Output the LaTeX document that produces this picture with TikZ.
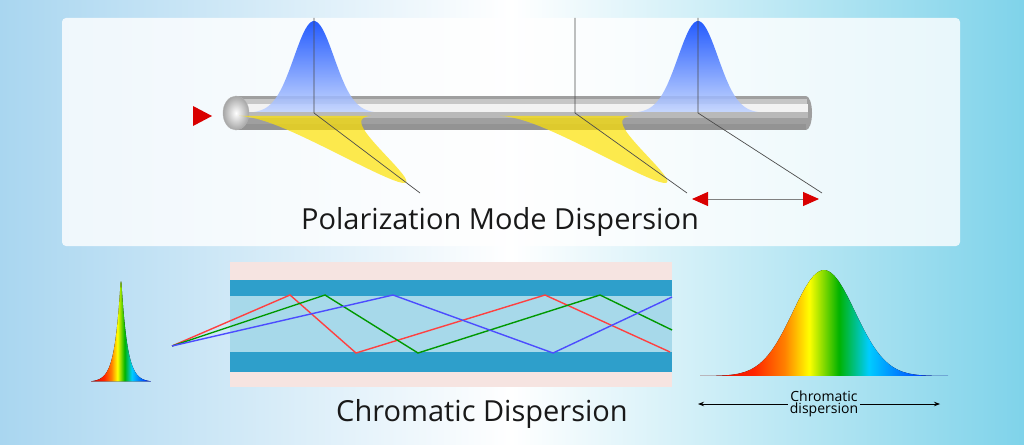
\documentclass[tikz,border=0pt]{standalone}
\usepackage{fontspec}
\setmainfont{Open Sans}
\usetikzlibrary{arrows.meta}
\definecolor{bgcyan}{HTML}{7FD3EA}
\definecolor{bgblue}{HTML}{A9D6F0}
\definecolor{cladding}{HTML}{2E9FCB}
\definecolor{core}{HTML}{A7D9EA}
\definecolor{jacket}{HTML}{F6E4E1}
\pgfdeclarehorizontalshading{rainbow}{100bp}{color(0bp)=(red!85!black); color(25bp)=(red!85!black); color(36bp)=(red!70!orange); color(42bp)=(orange); color(47bp)=(yellow); color(53bp)=(green!70!black); color(59bp)=(cyan!80!blue); color(75bp)=(blue); color(100bp)=(blue)}
\tikzset{
  ray/.style={line width=1.4pt},
  axis/.style={draw=black!70, line width=0.7pt},
  bluepulse/.style={top color=blue!75!cyan, bottom color=cyan!30!blue!25, opacity=0.85},
  yellowpulse/.style={fill=yellow!85!orange, opacity=0.7},
  title/.style={font=\fontsize{29}{34}\selectfont, text=black!90}
}
\begin{document}
\begin{tikzpicture}[x=1pt,y=-1pt]
  \useasboundingbox (0,0) rectangle (1024,444);
  % background
  \shade[left color=bgblue, right color=bgcyan, middle color=white] (0,0) rectangle (1024,444);
  \fill[white, opacity=0.8, rounded corners=4pt] (62,18) rectangle (960,246);

  % --- polarization mode dispersion ---
  \fill[gray!75] (236,96) rectangle (806,130);
  \fill[gray!75] (806,113) ellipse (6 and 17);
  \fill[gray!45] (236,99) rectangle (807,104);
  \fill[white!90!gray] (236,104) rectangle (808,112);
  \fill[gray!55] (236,112) rectangle (808,118);
  \fill[gray!85] (236,124) rectangle (806,130);
  \shade[inner color=white, outer color=gray!70, draw=gray!60] (236,113) ellipse (13 and 17);
  \fill[red!85!black] (193,106) -- (212,116) -- (193,126) -- cycle;
  % yellow pulses
  \foreach \c in {314,575}
    \fill[yellowpulse] plot[domain=-3:3,samples=50] ({\c-10+22*\x+100*exp(-0.5*(\x)*(\x))},{115+68*exp(-0.5*(\x)*(\x))}) -- cycle;
  % blue pulses
  \foreach \c in {314,698}
    \shade[bluepulse] plot[domain=-3:3,samples=50] ({\c+20*\x},{113-92*exp(-0.5*(\x)*(\x))}) -- cycle;
  % axes
  \coordinate (a1) at (314,113);
  \coordinate (a2) at (575,113);
  \coordinate (a3) at (698,113);
  \draw[axis] (314,18) -- (a1) -- ++(106,80);
  \draw[axis] (575,18) -- (a2) -- ++(112,80);
  \draw[axis] (698,18) -- (a3) -- ++(124,80);
  \coordinate (dl) at (692,199);
  \coordinate (dr) at (819,199);
  \draw[gray, line width=1pt, {Triangle[length=16pt,width=14pt,fill=red!85!black,color=red!85!black]}-{Triangle[length=16pt,width=14pt,fill=red!85!black,color=red!85!black]}] (dl) -- (dr);
  \node[title] (pmd) at (500,222) {Polarization Mode Dispersion};

  % --- chromatic dispersion ---
  \fill[jacket] (230,262) rectangle (672,387);
  \fill[cladding] (230,280) rectangle (672,372);
  \fill[core] (230,296) rectangle (672,352);
  \coordinate (src) at (172,346);
  \draw[ray, red!75] (src) -- (290,295) -- (356,353) -- (545,295) -- (670,352);
  \draw[ray, green!60!black] (src) -- (325,295) -- (418,353) -- (600,295) -- (672,330);
  \draw[ray, blue!70] (src) -- (393,295) -- (553,353) -- (672,297);
  \fill[shading=rainbow] plot[domain=-5:5,samples=80] ({121+6*\x},{382-107*exp(-abs(\x))}) -- cycle;
  \fill[shading=rainbow] plot[domain=-4:4,samples=60] ({824+31*\x},{376-106*exp(-0.5*(\x)*(\x))}) -- cycle;
  \node[font=\fontsize{14}{14}\selectfont, align=center, inner sep=2pt] (cdl) at (824,404) {Chromatic\\[-2pt]dispersion};
  \draw[-{Stealth[length=6pt]}, line width=0.8pt] (cdl.west) -- (698,404);
  \draw[-{Stealth[length=6pt]}, line width=0.8pt] (cdl.east) -- (940,404);
  \node[title] (cd) at (482,414) {Chromatic Dispersion};
\end{tikzpicture}
\end{document}
